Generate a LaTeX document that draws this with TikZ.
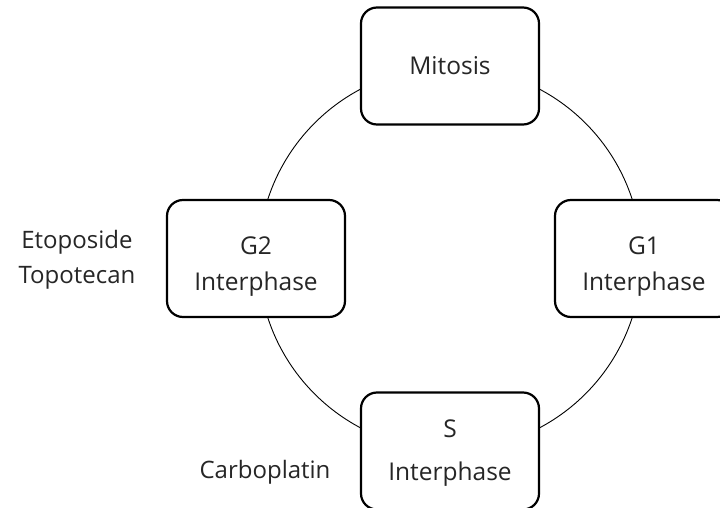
\documentclass[tikz,border=0pt]{standalone}
\usepackage{fontspec}
\setmainfont{Open Sans}
\begin{document}
\begin{tikzpicture}[x=1pt,y=-1pt,
  phasebox/.style={draw=black, line width=2.2pt, rounded corners=16pt, fill=white,
    minimum width=178pt, minimum height=117pt, inner sep=0pt},
  phasetext/.style={font=\fontsize{24.5}{36}\selectfont, align=center, text=black!85, inner sep=0pt},
  drugtext/.style={font=\fontsize{24}{35}\selectfont, align=center, text=black!85, inner sep=0pt}]
\useasboundingbox (0,0) rectangle (720,508);
\fill[white] (0,0) rectangle (720,508);
\node[circle, draw=black, line width=0.9pt, minimum size=383pt, inner sep=0pt] (cyc) at (450,258.5) {};
\node[phasebox] (mit) at (450,66) {};
\node[phasebox] (g2) at (256,258.5) {};
\node[phasebox] (g1) at (644,258.5) {};
\node[phasebox] (s) at (450,451) {};
\node[phasetext, anchor=base] (mitt) at (450,75) {Mitosis};
\node[phasetext, anchor=base] (g2t) at (256,290) {G2\\Interphase};
\node[phasetext, anchor=base] (g1t) at (644,290) {G1\\Interphase};
\node[phasetext, anchor=base, font=\fontsize{24.5}{43}\selectfont] (st) at (450,480) {S\\Interphase};
\node[drugtext, anchor=base] (eto) at (77,283) {Etoposide\\Topotecan};
\node[drugtext, anchor=base] (carbo) at (265,478) {Carboplatin};
\end{tikzpicture}
\end{document}
